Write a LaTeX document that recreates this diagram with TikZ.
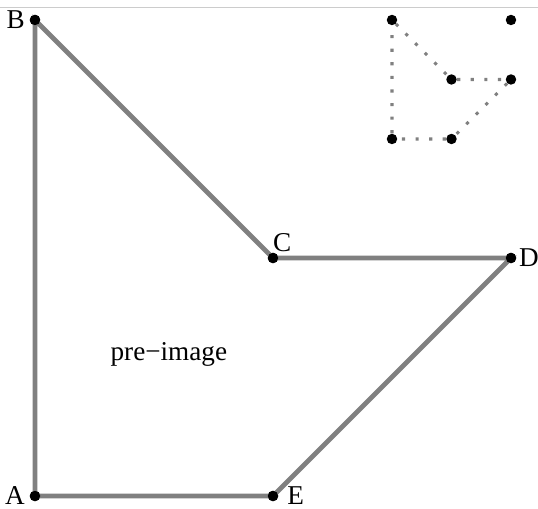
\documentclass[tikz,border=0pt]{standalone}
\usepackage{fontspec}
\setmainfont{Liberation Serif}
\usepackage{tikz}
\usetikzlibrary{positioning,calc}

\begin{document}
\begin{tikzpicture}[
  pt/.style={circle,fill=black,inner sep=0pt,minimum size=5pt},
  lbl/.style={font=\fontsize{13}{15}\selectfont,inner sep=1pt},
  preline/.style={draw=gray,line width=2.3pt},
  imgline/.style={draw=gray,line width=1.5pt,dash pattern=on 1.5pt off 5pt}]
\useasboundingbox (-0.588,-0.202) rectangle (8.454,8.336);
\draw[black!20,line width=0.4pt] (-0.588,8.218) -- (8.454,8.218);
% pre-image
\node[pt] (A) at (0,0) {};
\node[pt] (B) at (0,8) {};
\node[pt] (C) at (4,4) {};
\node[pt] (D) at (8,4) {};
\node[pt] (E) at (4,0) {};
\draw[preline] (A.center) -- (B.center) -- (C.center) -- (D.center) -- (E.center) -- cycle;
\foreach \p in {A,B,C,D,E} \node[pt] at (\p) {};
\node[lbl,left=1pt of A] {A};
\node[lbl,left=1pt of B] {B};
\node[lbl,above right=0pt and -3pt of C] {C};
\node[lbl,right=0pt of D] {D};
\node[lbl,right=3pt of E] {E};
\node[lbl] (pre) at (2.25,2.38) {pre−image};
% image, scale 1/4 about O
\node[pt] (O) at (8,8) {};
\node[pt] (A1) at ($(O)!0.25!(A)$) {};
\node[pt] (B1) at ($(O)!0.25!(B)$) {};
\node[pt] (C1) at ($(O)!0.25!(C)$) {};
\node[pt] (D1) at ($(O)!0.25!(D)$) {};
\node[pt] (E1) at ($(O)!0.25!(E)$) {};
\draw[imgline] (A1) -- (B1) -- (C1) -- (D1) -- (E1) -- (A1);
\end{tikzpicture}
\end{document}
